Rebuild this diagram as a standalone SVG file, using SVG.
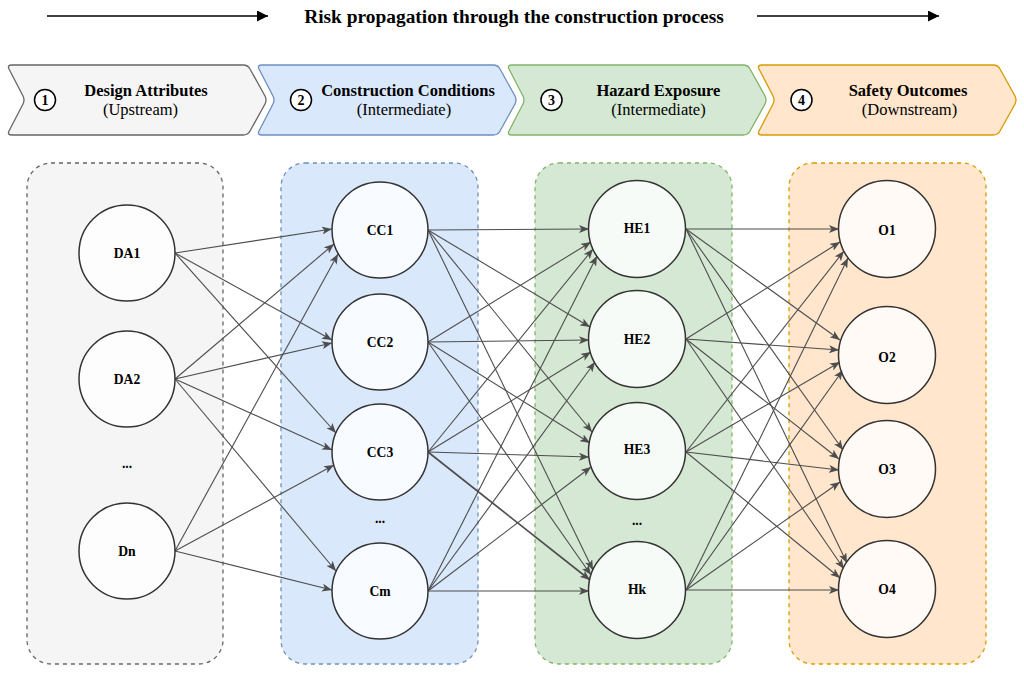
<svg xmlns="http://www.w3.org/2000/svg" width="1024" height="676" viewBox="0 0 1024 676">
<defs>
<style>
.t{font-family:"Liberation Serif","Times New Roman",serif;fill:#000}
.title{font-size:19.4px;font-weight:bold}
.hb{font-size:16.5px;font-weight:bold}
.hn{font-size:16.5px}
.num{font-size:14px;font-weight:bold}
.nl{font-size:13.6px;font-weight:bold}
.cont{stroke-width:1.3;stroke-dasharray:4 4}
.node{fill:#fff;fill-opacity:0.8;stroke:#333;stroke-width:1.5}
.edge line{stroke:#4d4d4d;stroke-width:1.1;marker-end:url(#ah)}
.chev{stroke-width:1.3}
</style>
<marker id="ah" viewBox="0 0 10 8" refX="10" refY="4" markerWidth="10" markerHeight="8" markerUnits="userSpaceOnUse" orient="auto">
<path d="M0,0 L10,4 L0,8 L2.5,4 Z" fill="#4d4d4d"/>
</marker>
<marker id="bh" viewBox="0 0 10 10" refX="10" refY="5" markerWidth="11" markerHeight="11" markerUnits="userSpaceOnUse" orient="auto">
<path d="M0,0 L10,5 L0,10 Z" fill="#000"/>
</marker>
<path id="chevshape" d="M5,65 L236,65 Q241,65 243,69 L258,96 Q260,100 258,104 L243,131 Q241,135 236,135 L5,135 Q0,135 2,131 L16,104 Q18,100 16,96 L2,69 Q0,65 5,65 Z"/>
</defs>
<rect width="1024" height="676" fill="#fff"/>

<g id="title">
<line x1="47" y1="16" x2="268" y2="16" stroke="#000" stroke-width="1.5" marker-end="url(#bh)"/>
<text class="t title" x="514" y="23" text-anchor="middle">Risk propagation through the construction process</text>
<line x1="757" y1="16" x2="939" y2="16" stroke="#000" stroke-width="1.5" marker-end="url(#bh)"/>
</g>

<g id="stage1">
<use href="#chevshape" x="7" class="chev" fill="#f5f5f5" stroke="#666666"/>
<circle cx="45" cy="100" r="10.5" fill="#fff" stroke="#000" stroke-width="1.5"/>
<text class="t num" x="45" y="105" text-anchor="middle">1</text>
<text class="t hb" x="146" y="96" text-anchor="middle">Design Attributes</text>
<text class="t hn" x="140.5" y="115" text-anchor="middle">(Upstream)</text>
</g>
<g id="stage2">
<use href="#chevshape" x="257" class="chev" fill="#dae8fc" stroke="#6c8ebf"/>
<circle cx="301" cy="100" r="10.5" fill="#fff" stroke="#000" stroke-width="1.5"/>
<text class="t num" x="301" y="105" text-anchor="middle">2</text>
<text class="t hb" x="408" y="96" text-anchor="middle">Construction Conditions</text>
<text class="t hn" x="404" y="115" text-anchor="middle">(Intermediate)</text>
</g>
<g id="stage3">
<use href="#chevshape" x="507" class="chev" fill="#d5e8d4" stroke="#82b366"/>
<circle cx="551.5" cy="100" r="10.5" fill="#fff" stroke="#000" stroke-width="1.5"/>
<text class="t num" x="551.5" y="105" text-anchor="middle">3</text>
<text class="t hb" x="658.5" y="96" text-anchor="middle">Hazard Exposure</text>
<text class="t hn" x="658.5" y="115" text-anchor="middle">(Intermediate)</text>
</g>
<g id="stage4">
<use href="#chevshape" x="757" class="chev" fill="#ffe6cc" stroke="#d79b00"/>
<circle cx="801.5" cy="100" r="10.5" fill="#fff" stroke="#000" stroke-width="1.5"/>
<text class="t num" x="801.5" y="105" text-anchor="middle">4</text>
<text class="t hb" x="908" y="96" text-anchor="middle">Safety Outcomes</text>
<text class="t hn" x="909.5" y="115" text-anchor="middle">(Downstream)</text>
</g>

<g id="containers">
<rect class="cont" x="27" y="163" width="196" height="501" rx="24" fill="#f5f5f5" stroke="#666666"/>
<rect class="cont" x="281" y="163" width="197" height="501" rx="24" fill="#dae8fc" stroke="#6c8ebf"/>
<rect class="cont" x="535" y="163" width="197" height="501" rx="24" fill="#d5e8d4" stroke="#82b366"/>
<rect class="cont" x="789" y="163" width="197" height="501" rx="24" fill="#ffe6cc" stroke="#d79b00"/>
</g>

<g id="connectors" class="edge">
<line x1="175" y1="253" x2="332" y2="229"/>
<line x1="175" y1="253" x2="332" y2="340"/>
<line x1="175" y1="253" x2="336" y2="433"/>
<line x1="175" y1="379" x2="334" y2="244"/>
<line x1="175" y1="379" x2="332" y2="343"/>
<line x1="175" y1="379" x2="332" y2="450"/>
<line x1="175" y1="379" x2="336" y2="571"/>
<line x1="175" y1="551" x2="338" y2="254"/>
<line x1="175" y1="551" x2="334" y2="465"/>
<line x1="175" y1="551" x2="332" y2="590"/>

<line x1="428" y1="230" x2="589" y2="229"/>
<line x1="428" y1="230" x2="590" y2="327"/>
<line x1="428" y1="230" x2="592" y2="432"/>
<line x1="428" y1="230" x2="593" y2="570"/>
<line x1="428" y1="342" x2="591" y2="242"/>
<line x1="428" y1="342" x2="589" y2="340"/>
<line x1="428" y1="342" x2="590" y2="443"/>
<line x1="428" y1="342" x2="591" y2="575"/>
<line x1="428" y1="452" x2="593" y2="249"/>
<line x1="428" y1="452" x2="591" y2="352"/>
<line x1="428" y1="452" x2="589" y2="457"/>
<line x1="428" y1="452" x2="590" y2="580" style="stroke-width:1.7"/>
<line x1="428" y1="591" x2="597" y2="256"/>
<line x1="428" y1="591" x2="595" y2="362"/>
<line x1="428" y1="591" x2="591" y2="467"/>
<line x1="428" y1="591" x2="589" y2="591"/>

<line x1="686" y1="229" x2="839" y2="229"/>
<line x1="686" y1="229" x2="840" y2="340"/>
<line x1="686" y1="229" x2="843" y2="450"/>
<line x1="686" y1="229" x2="847" y2="563"/>
<line x1="686" y1="339" x2="840" y2="242"/>
<line x1="686" y1="339" x2="839" y2="350"/>
<line x1="686" y1="339" x2="839" y2="459"/>
<line x1="686" y1="339" x2="844" y2="569"/>
<line x1="686" y1="452" x2="844" y2="251"/>
<line x1="686" y1="452" x2="840" y2="362"/>
<line x1="686" y1="452" x2="839" y2="470"/>
<line x1="686" y1="452" x2="840" y2="578"/>
<line x1="686" y1="590" x2="848" y2="258"/>
<line x1="686" y1="590" x2="843" y2="370"/>
<line x1="686" y1="590" x2="840" y2="482"/>
<line x1="686" y1="590" x2="839" y2="590"/>
</g>

<g id="DA1"><circle class="node" cx="127" cy="253" r="48"/><text class="t nl" x="127" y="258" text-anchor="middle">DA1</text></g>
<g id="DA2"><circle class="node" cx="127" cy="379" r="48"/><text class="t nl" x="127" y="384" text-anchor="middle">DA2</text></g>
<g id="DAdots"><text class="t nl" x="127" y="468" text-anchor="middle">...</text></g>
<g id="Dn"><circle class="node" cx="127" cy="551" r="48"/><text class="t nl" x="127" y="556" text-anchor="middle">Dn</text></g>

<g id="CC1"><circle class="node" cx="380" cy="230" r="48"/><text class="t nl" x="380" y="235" text-anchor="middle">CC1</text></g>
<g id="CC2"><circle class="node" cx="380" cy="342" r="48"/><text class="t nl" x="380" y="347" text-anchor="middle">CC2</text></g>
<g id="CC3"><circle class="node" cx="380" cy="452" r="48"/><text class="t nl" x="380" y="457" text-anchor="middle">CC3</text></g>
<g id="CCdots"><text class="t nl" x="380" y="523" text-anchor="middle">...</text></g>
<g id="Cm"><circle class="node" cx="380" cy="591" r="48"/><text class="t nl" x="380" y="596" text-anchor="middle">Cm</text></g>

<g id="HE1"><circle class="node" cx="637" cy="229" r="48.5"/><text class="t nl" x="637" y="233" text-anchor="middle">HE1</text></g>
<g id="HE2"><circle class="node" cx="637" cy="339" r="48.5"/><text class="t nl" x="637" y="344" text-anchor="middle">HE2</text></g>
<g id="HE3"><circle class="node" cx="637" cy="451" r="48.5"/><text class="t nl" x="637" y="454" text-anchor="middle">HE3</text></g>
<g id="HEdots"><text class="t nl" x="637" y="525" text-anchor="middle">...</text></g>
<g id="Hk"><circle class="node" cx="637" cy="590" r="48.5"/><text class="t nl" x="637" y="594" text-anchor="middle">Hk</text></g>

<g id="O1"><circle class="node" cx="887" cy="229" r="48.5"/><text class="t nl" x="887" y="235" text-anchor="middle">O1</text></g>
<g id="O2"><circle class="node" cx="887" cy="355" r="48.5"/><text class="t nl" x="887" y="362" text-anchor="middle">O2</text></g>
<g id="O3"><circle class="node" cx="887" cy="469" r="48.5"/><text class="t nl" x="887" y="474" text-anchor="middle">O3</text></g>
<g id="O4"><circle class="node" cx="887" cy="589" r="48.5"/><text class="t nl" x="887" y="594" text-anchor="middle">O4</text></g>
</svg>
